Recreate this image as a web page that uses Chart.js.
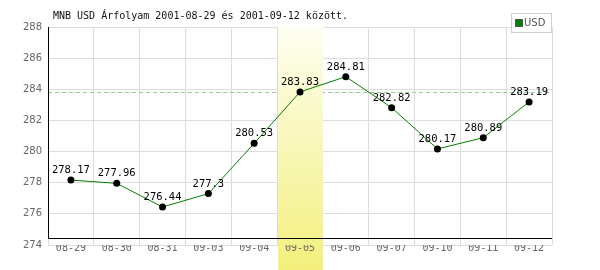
<!DOCTYPE html>
<html lang="hu">
<head>
<meta charset="UTF-8">
<title>MNB USD</title>
<script src="https://cdn.jsdelivr.net/npm/chart.js"></script>
<style>
  html, body { margin: 0; padding: 0; background: #fff; }
  #wrap { width: 600px; height: 270px; }
</style>
</head>
<body>
<div id="wrap"><canvas id="myChart" width="600" height="270"></canvas></div>
<script>
const title = 'MNB USD Árfolyam 2001-08-29 és 2001-09-12 között.';
const seriesName = 'USD';
const days = ['08-29', '08-30', '08-31', '09-03', '09-04', '09-05', '09-06', '09-07', '09-10', '09-11', '09-12'];
const rates = [278.17, 277.96, 276.44, 277.3, 280.53, 283.83, 284.81, 282.82, 280.17, 280.89, 283.19];
const yTicks = [274, 276, 278, 280, 282, 284, 286, 288];
const highlightDay = '09-05';

const mono = '"DejaVu Sans Mono", monospace';

// title, legend, highlight column, dashed ref line, axis lines, value labels
const decor = {
    id: 'decor',
    beforeDatasetsDraw(chart) {
        const ctx = chart.ctx;
        const area = chart.chartArea;
        const x = chart.scales.x;
        const y = chart.scales.y;
        const hi = days.indexOf(highlightDay);

        ctx.save();
        // dashed line at highlighted day's value
        const ly = Math.round(y.getPixelForValue(rates[hi])) + 0.5;
        ctx.strokeStyle = '#99cc99';
        ctx.lineWidth = 1;
        ctx.setLineDash([4, 3]);
        ctx.beginPath();
        ctx.moveTo(area.left, ly);
        ctx.lineTo(area.right, ly);
        ctx.stroke();
        ctx.setLineDash([]);

        // highlight column
        const half = (x.getPixelForValue(1) - x.getPixelForValue(0)) / 2;
        const cx = x.getPixelForValue(hi);
        const x0 = Math.round(cx - half) + 1;
        const x1 = Math.round(cx + half);
        const g = ctx.createLinearGradient(0, area.top, 0, chart.height);
        g.addColorStop(0, '#fefef2');
        g.addColorStop(1, '#f3f07c');
        ctx.fillStyle = g;
        ctx.fillRect(x0, area.top - 1, x1 - x0, chart.height - area.top + 1);

        // black frame lines
        ctx.strokeStyle = '#000';
        ctx.beginPath();
        ctx.moveTo(area.left + 0.5, area.top);
        ctx.lineTo(area.left + 0.5, area.bottom - 7 + 0.5);
        ctx.lineTo(area.right, area.bottom - 7 + 0.5);
        ctx.stroke();
        ctx.restore();
    },
    afterDatasetsDraw(chart) {
        const ctx = chart.ctx;
        const meta = chart.getDatasetMeta(0);
        ctx.save();
        ctx.font = '10.5px ' + mono;
        ctx.fillStyle = '#000';
        ctx.textAlign = 'center';
        ctx.textBaseline = 'alphabetic';
        meta.data.forEach((pt, i) => {
            ctx.fillText(String(rates[i]), pt.x, pt.y - 7);
        });
        ctx.restore();
    },
    afterDraw(chart) {
        const ctx = chart.ctx;
        const area = chart.chartArea;
        ctx.save();
        ctx.font = '10px ' + mono;
        ctx.fillStyle = '#111';
        ctx.textBaseline = 'middle';
        ctx.textAlign = 'left';
        ctx.fillText(title, 53, 16);

        // legend box
        const bw = 41, bh = 20;
        const bx = area.right - bw, by = 13;
        ctx.fillStyle = '#fff';
        ctx.fillRect(bx, by, bw, bh);
        ctx.strokeStyle = '#d0d0d0';
        ctx.strokeRect(bx + 0.5, by + 0.5, bw - 1, bh - 1);
        ctx.fillStyle = '#008000';
        ctx.fillRect(bx + 5, by + 7, 6, 6);
        ctx.strokeStyle = '#555';
        ctx.strokeRect(bx + 4.5, by + 6.5, 7, 7);
        ctx.fillStyle = '#555';
        ctx.font = '10px "DejaVu Sans", sans-serif';
        ctx.fillText(seriesName, bx + 13, by + 10.5);
        ctx.restore();
    }
};

new Chart(document.getElementById('myChart'), {
    type: 'line',
    data: {
        labels: days,
        datasets: [{
            label: seriesName,
            data: rates,
            borderColor: '#008000',
            borderWidth: 1,
            tension: 0,
            pointRadius: 3.5,
            pointBackgroundColor: '#000',
            pointBorderWidth: 0,
            pointHoverRadius: 3.5
        }]
    },
    options: {
        responsive: false,
        animation: false,
        events: [],
        layout: { padding: { left: 0, right: 48, top: 27, bottom: 0 } },
        plugins: {
            legend: { display: false },
            title: { display: false },
            tooltip: { enabled: false }
        },
        scales: {
            x: {
                offset: true,
                grid: { offset: true, color: '#dddddd', drawTicks: false },
                border: { display: false },
                ticks: {
                    z: 1,
                    padding: -3,
                    color: '#666',
                    font: { family: mono, size: 10 },
                    maxRotation: 0,
                    autoSkip: false
                },
                afterFit(s) { s.height = 25; }
            },
            y: {
                min: yTicks[0],
                max: yTicks[yTicks.length - 1],
                afterBuildTicks(s) { s.ticks = yTicks.map(v => ({ value: v })); },
                grid: { color: '#dddddd', drawTicks: false },
                border: { display: false },
                ticks: {
                    z: 1,
                    padding: 6,
                    color: '#666',
                    font: { family: '"DejaVu Sans", sans-serif', size: 10 }
                },
                afterFit(s) { s.width = 48; }
            }
        }
    },
    plugins: [decor]
});
</script>
</body>
</html>
